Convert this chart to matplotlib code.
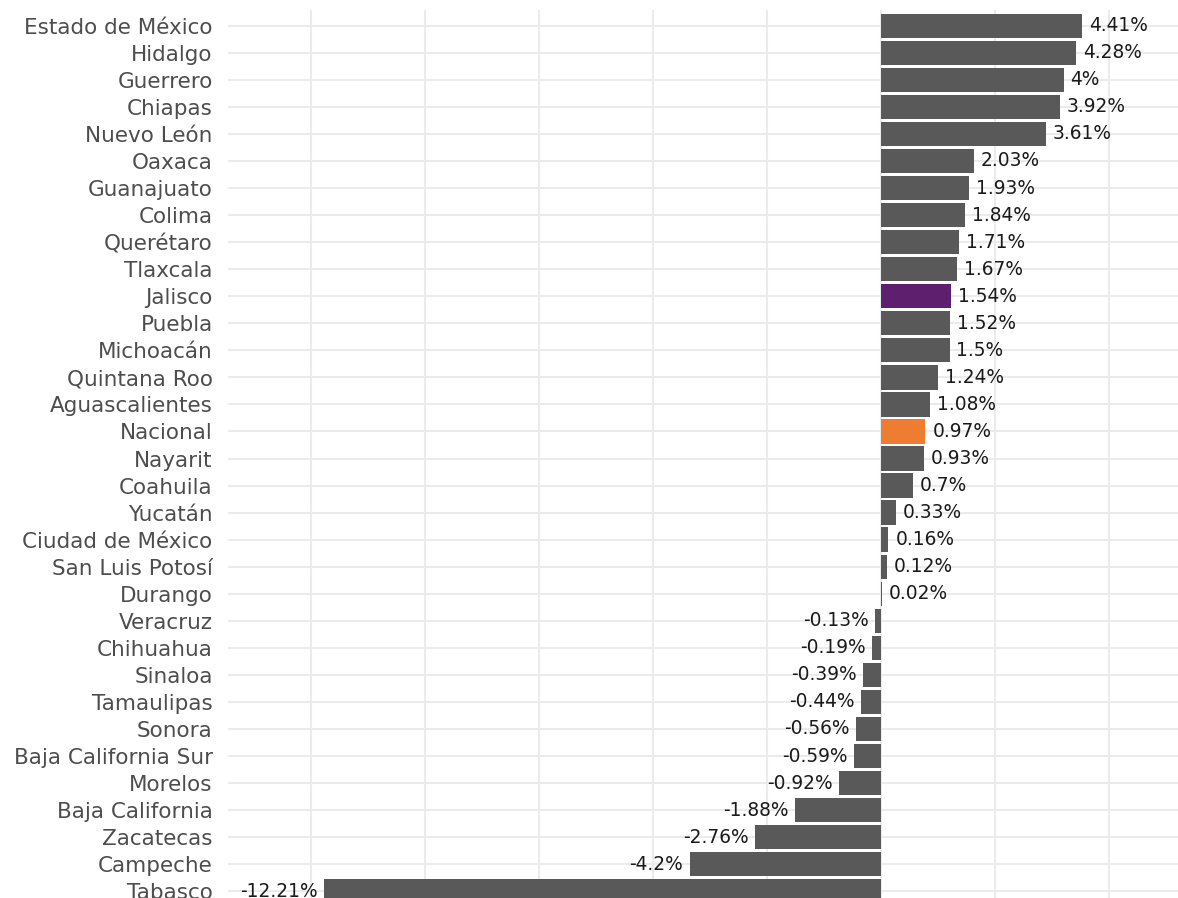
import matplotlib
matplotlib.use("Agg")
import matplotlib.pyplot as plt
import numpy as np

states = ["Estado de México", "Hidalgo", "Guerrero", "Chiapas", "Nuevo León",
          "Oaxaca", "Guanajuato", "Colima", "Querétaro", "Tlaxcala", "Jalisco",
          "Puebla", "Michoacán", "Quintana Roo", "Aguascalientes", "Nacional",
          "Nayarit", "Coahuila", "Yucatán", "Ciudad de México", "San Luis Potosí",
          "Durango", "Veracruz", "Chihuahua", "Sinaloa", "Tamaulipas", "Sonora",
          "Baja California Sur", "Morelos", "Baja California", "Zacatecas",
          "Campeche", "Tabasco"]
values = [4.41, 4.28, 4.0, 3.92, 3.61, 2.03, 1.93, 1.84, 1.71, 1.67, 1.54,
          1.52, 1.5, 1.24, 1.08, 0.97, 0.93, 0.7, 0.33, 0.16, 0.12, 0.02,
          -0.13, -0.19, -0.39, -0.44, -0.56, -0.59, -0.92, -1.88, -2.76,
          -4.2, -12.21]
highlight = {"Jalisco": "#5E206E", "Nacional": "#EE7D31"}
base_color = "#595959"
grid_x = [-12.5, -10, -7.5, -5, -2.5, 0, 2.5, 5]

plt.rcParams['font.family'] = ['DejaVu Sans']

W, H = 1178, 898
fig = plt.figure(figsize=(W / 100, H / 100), dpi=100)
top_px, bot_px, left_px, right_px = 9.5, 907.5, 228, 1178
ax = fig.add_axes([left_px / W, 1 - bot_px / H, (right_px - left_px) / W,
                   (bot_px - top_px) / H])

y = np.arange(len(states))
colors = [highlight.get(s, base_color) for s in states]

for gx in grid_x:
    ax.axvline(gx, color="#EBEBEB", lw=1.5, zorder=0)
for yy in y:
    ax.axhline(yy, color="#EBEBEB", lw=1.5, zorder=0)

ax.barh(y, values, height=0.9, color=colors, zorder=2)

for yy, v in zip(y, values):
    lab = f"{v:g}%"
    if v >= 0:
        ax.annotate(lab, (v, yy), xytext=(5, 0), textcoords="offset points",
                    ha="left", va="center", fontsize=13.4, color="#1A1A1A", zorder=3)
    else:
        ax.annotate(lab, (v, yy), xytext=(-4.5, 0), textcoords="offset points",
                    ha="right", va="center", fontsize=13.4, color="#1A1A1A", zorder=3)

ax.set_xlim(-14.32, 6.51)
ax.set_ylim(len(states) - 1 + 0.6, -0.6)
ax.set_yticks(y)
ax.set_yticklabels(states, fontsize=15.5, color="#4D4D4D")
ax.tick_params(axis="y", length=0, pad=11)
ax.set_xticks([])
for sp in ax.spines.values():
    sp.set_visible(False)

fig.savefig("out.png", dpi=100, facecolor="white")
